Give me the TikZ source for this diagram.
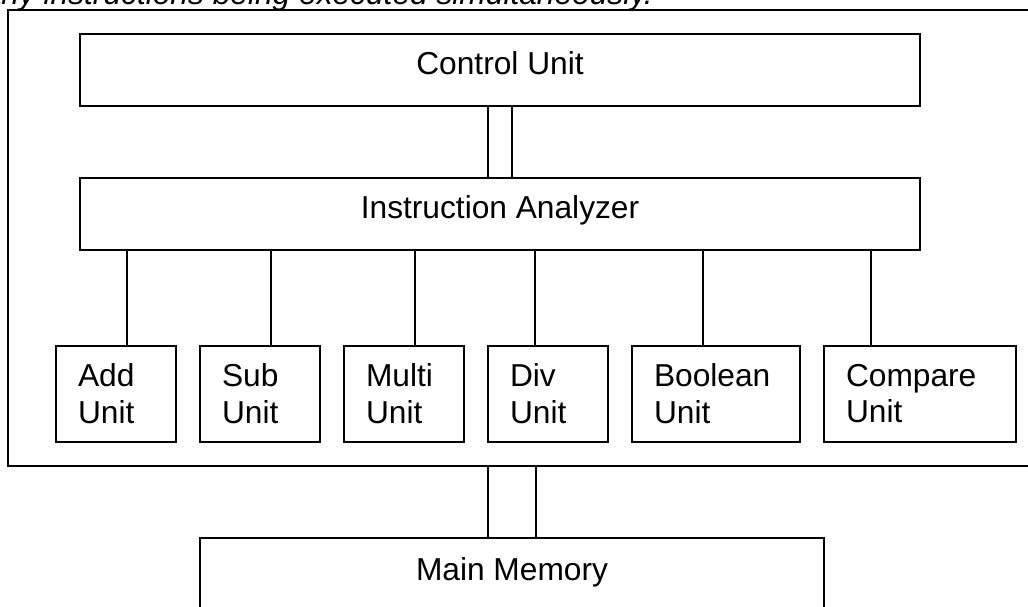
\documentclass[tikz,border=0pt]{standalone}
\usepackage{fontspec}
\setmainfont{Liberation Sans}
\usetikzlibrary{calc}
\begin{document}
\begin{tikzpicture}[x=1pt,y=-1pt,
  every node/.style={font=\fontsize{31.7}{36.6}\selectfont},
  box/.style={draw=black, line width=1.9pt, inner sep=0pt, anchor=center},
  onebox/.style={box, text height=22.7pt, text depth=13.4pt},
  unitbox/.style={box, minimum height=96pt, text width=#1, align=left, inner xsep=22pt},
  wire/.style={draw=black, line width=1.9pt}
]
\clip (0,0) rectangle (1028,607);
\fill[white] (0,0) rectangle (1028,607);
% partial caption at the top
\node[anchor=base east, font=\fontsize{31.7}{36.6}\selectfont\itshape, inner sep=0pt] (cap) at (653,5) {many instructions being executed simultaneously.};
% outer processor box
\node[box, minimum width=1032pt, minimum height=455.7pt] (cpu) at (524,237.85) {};
% control unit and analyzer
\node[onebox, minimum width=840pt, minimum height=72pt] (cu) at (500,70) {Control Unit};
\node[onebox, minimum width=840pt, minimum height=72pt] (ia) at (500,214) {Instruction Analyzer};
% functional units
\node[unitbox=76pt] (add) at (116,393.7) {Add\\Unit};
\node[unitbox=76pt] (sub) at (260,393.7) {Sub\\Unit};
\node[unitbox=76pt] (mul) at (404,393.7) {Multi\\Unit};
\node[unitbox=76pt] (div) at (548,393.7) {Div\\Unit};
\node[unitbox=124pt] (bool) at (716,393.7) {Boolean\\Unit};
\node[unitbox=148pt] (cmp) at (920,393.7) {Compare\\Unit};
% main memory
\node[onebox, minimum width=624pt, minimum height=75.3pt] (mm) at (512,575.35) {Main Memory};
% bus between control unit and analyzer
\draw[wire] ([xshift=-12pt]cu.south) -- ([xshift=-12pt]cu.south |- ia.north);
\draw[wire] ([xshift=12pt]cu.south) -- ([xshift=12pt]cu.south |- ia.north);
% analyzer to units
\draw[wire] ([xshift=72pt]add.north west) -- ([xshift=72pt]add.north west |- ia.south);
\draw[wire] ([xshift=72pt]sub.north west) -- ([xshift=72pt]sub.north west |- ia.south);
\draw[wire] ([xshift=72pt]mul.north west) -- ([xshift=72pt]mul.north west |- ia.south);
\draw[wire] ([xshift=48pt]div.north west) -- ([xshift=48pt]div.north west |- ia.south);
\draw[wire] ([xshift=72pt]bool.north west) -- ([xshift=72pt]bool.north west |- ia.south);
\draw[wire] ([xshift=48pt]cmp.north west) -- ([xshift=48pt]cmp.north west |- ia.south);
% bus between processor and memory
\draw[wire] ([xshift=-24pt]mm.north) -- ([xshift=-24pt]mm.north |- cpu.south);
\draw[wire] ([xshift=24pt]mm.north) -- ([xshift=24pt]mm.north |- cpu.south);
\end{tikzpicture}
\end{document}
